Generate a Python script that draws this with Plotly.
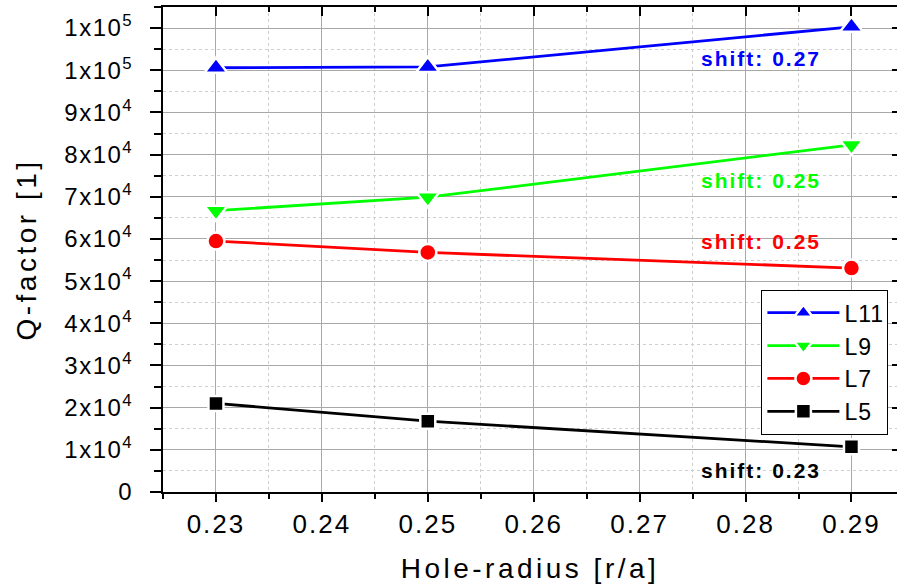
import plotly.graph_objects as go

# Hole radius (r/a) for each simulated cavity
hole_radius = [0.23, 0.25, 0.29]

# Q-factor of each cavity length
q_L11 = [100600, 100800, 110300]
q_L9 = [66700, 69900, 82300]
q_L7 = [59500, 56800, 53100]
q_L5 = [21000, 16800, 10700]

series_names = ["L11", "L9", "L7", "L5"]
series_colors = ["#0000ff", "#00ff00", "#ff0000", "#000000"]
series_symbols = ["triangle-up", "triangle-down", "circle", "square"]
series_sizes = [20, 20, 17, 15]

# shift labels: text, anchor x, anchor y
shift_texts = ["shift: 0.27", "shift: 0.25", "shift: 0.25", "shift: 0.23"]
shift_x = [0.2815, 0.2815, 0.2815, 0.2815]
shift_y = [102700, 73800, 59300, 5200]

y_tickvals = [0, 10000, 20000, 30000, 40000, 50000, 60000, 70000, 80000, 90000, 100000, 110000]
y_ticktext = ["0", "1x10<sup>4</sup>", "2x10<sup>4</sup>", "3x10<sup>4</sup>", "4x10<sup>4</sup>",
              "5x10<sup>4</sup>", "6x10<sup>4</sup>", "7x10<sup>4</sup>", "8x10<sup>4</sup>",
              "9x10<sup>4</sup>", "1x10<sup>5</sup>", "1x10<sup>5</sup>"]
x_tickvals = [0.23, 0.24, 0.25, 0.26, 0.27, 0.28, 0.29]
x_ticktext = ["0.23", "0.24", "0.25", "0.26", "0.27", "0.28", "0.29"]

X_RANGE = [0.225, 0.2943]
Y_RANGE = [0, 115000]
FONT = "Liberation Sans, Arial, sans-serif"

fig = go.Figure()
for name, vals, col, sym, sz in zip(series_names, [q_L11, q_L9, q_L7, q_L5],
                                    series_colors, series_symbols, series_sizes):
    fig.add_trace(go.Scatter(
        x=hole_radius, y=vals, name=name, mode="lines+markers",
        line=dict(color=col, width=2.8),
        marker=dict(symbol=sym, size=sz, color=col, line=dict(color="white", width=2.5)),
    ))

# empty trace that carries the mirrored top/right axes
fig.add_trace(go.Scatter(x=[], y=[], xaxis="x2", yaxis="y2", showlegend=False, hoverinfo="skip"))

for txt, col, ax, ay in zip(shift_texts, series_colors, shift_x, shift_y):
    fig.add_annotation(x=ax, y=ay, text="<b>" + txt + "</b>", showarrow=False,
                       font=dict(family=FONT, size=21, color=col))

fig.update_layout(
    width=897, height=585,
    margin=dict(l=163, r=0, t=7, b=93),
    paper_bgcolor="white", plot_bgcolor="white",
    font=dict(family=FONT, color="black"),
    showlegend=True,
    legend=dict(
        x=0.988, y=0.4165, xanchor="right", yanchor="top",
        bgcolor="white", bordercolor="black", borderwidth=1.2,
        font=dict(family=FONT, size=23, color="black"),
        tracegroupgap=0, itemwidth=72,
    ),
    xaxis=dict(
        range=X_RANGE, tickvals=x_tickvals, ticktext=x_ticktext,
        ticks="outside", ticklen=8, tickwidth=2, tickcolor="black",
        showline=True, linecolor="black", linewidth=2,
        showgrid=True, gridcolor="#a8a8a8", gridwidth=1.2, zeroline=False,
        minor=dict(dtick=0.005, tick0=0.225, ticks="outside", ticklen=5, tickwidth=2,
                   tickcolor="black", showgrid=True, gridcolor="#cfcfcf", griddash="dot", gridwidth=1),
        tickfont=dict(family=FONT, size=26),
        title=dict(text="Hole-radius [r/a]", font=dict(family=FONT, size=28), standoff=20),
    ),
    yaxis=dict(
        range=Y_RANGE, tickvals=y_tickvals, ticktext=y_ticktext,
        ticks="outside", ticklen=11, tickwidth=2, tickcolor="black",
        showline=True, linecolor="black", linewidth=2,
        showgrid=True, gridcolor="#a8a8a8", gridwidth=1.2, zeroline=False,
        minor=dict(dtick=5000, tick0=0, ticks="outside", ticklen=7, tickwidth=2,
                   tickcolor="black", showgrid=True, gridcolor="#cfcfcf", griddash="dot", gridwidth=1),
        tickfont=dict(family=FONT, size=24), ticklabelstandoff=12,
        title=dict(text="Q-factor [1]", font=dict(family=FONT, size=28), standoff=27),
    ),
    xaxis2=dict(
        overlaying="x", side="top", anchor="y", range=X_RANGE, tickvals=x_tickvals,
        showticklabels=False, ticks="inside", ticklen=9, tickwidth=2, tickcolor="black",
        showline=True, linecolor="black", linewidth=2, showgrid=False, zeroline=False,
        minor=dict(dtick=0.005, tick0=0.225, ticks="inside", ticklen=5, tickwidth=2, tickcolor="black"),
    ),
    yaxis2=dict(
        overlaying="y", side="right", anchor="x", range=Y_RANGE, tickvals=y_tickvals,
        showticklabels=False, ticks="inside", ticklen=5, tickwidth=2, tickcolor="black",
        showline=False, showgrid=False, zeroline=False,
    ),
)

# wide letter spacing of the axis and label texts
letter_spacing = """
var st = document.createElement('style');
st.textContent = '.xtick text {letter-spacing: 2px;} .ytick text {letter-spacing: 1.5px;}'
  + ' text.xtitle, text.ytitle {letter-spacing: 3.5px;}'
  + ' text.legendtext {letter-spacing: 1px;}'
  + ' text.annotation-text {letter-spacing: 2px;}';
document.head.appendChild(st);
"""

fig.write_html("out.html", post_script=letter_spacing)
